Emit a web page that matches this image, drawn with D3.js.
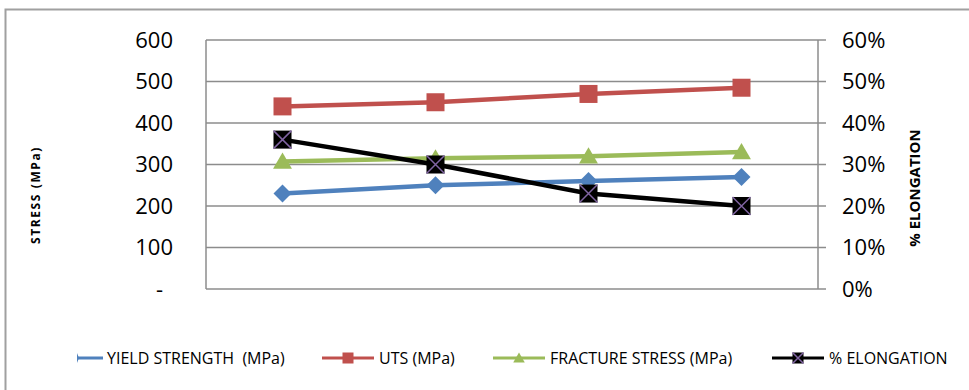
<!DOCTYPE html>
<html>
<head>
<meta charset="utf-8">
<script src="https://cdn.jsdelivr.net/npm/d3@7"></script>
<style>
  html, body { margin: 0; padding: 0; background: #fff; }
  svg { display: block; font-family: "Open Sans", "Liberation Sans", sans-serif; }
  text { white-space: pre; }
</style>
</head>
<body>
<svg id="chart" width="969" height="390"></svg>
<script>
// Four samples along the category axis (unlabelled)
const categories = ["S1", "S2", "S3", "S4"];
const yieldStrength = [230, 250, 260, 270];
const uts = [440, 450, 470, 485];
const fractureStress = [307, 315, 320, 330];
const elongation = [0.36, 0.30, 0.23, 0.20];
const stressTicks = [0, 100, 200, 300, 400, 500, 600];
const elongTicks = [0, 0.1, 0.2, 0.3, 0.4, 0.5, 0.6];
const seriesNames = ["YIELD STRENGTH  (MPa)", "UTS (MPa)", "FRACTURE STRESS (MPa)", "% ELONGATION"];

const svg = d3.select("#chart");
const plot = { left: 206, right: 818, top: 40, bottom: 289 };

// Frame around the chart area
svg.append("rect")
  .attr("x", 5.5).attr("y", 9.5).attr("width", 980).attr("height", 400)
  .attr("fill", "none").attr("stroke", "#a0a0a0").attr("stroke-width", 2);

const x = d3.scaleBand().domain(categories).range([plot.left, plot.right]);
const yL = d3.scaleLinear().domain([0, 600]).range([plot.bottom, plot.top]);
const yR = d3.scaleLinear().domain([0, 0.6]).range([plot.bottom, plot.top]);

// Horizontal gridlines
svg.append("g").selectAll("line").data(stressTicks).join("line")
  .attr("x1", plot.left).attr("x2", plot.right + 8)
  .attr("y1", d => yL(d)).attr("y2", d => yL(d))
  .attr("stroke", "#8c8c8c").attr("stroke-width", 1.5);

// Left and right axis lines
svg.append("line").attr("x1", plot.left).attr("x2", plot.left)
  .attr("y1", plot.top).attr("y2", plot.bottom)
  .attr("stroke", "#8c8c8c").attr("stroke-width", 1.5);
svg.append("line").attr("x1", plot.right).attr("x2", plot.right)
  .attr("y1", plot.top).attr("y2", plot.bottom)
  .attr("stroke", "#8c8c8c").attr("stroke-width", 1.5);

// Left axis labels (stress)
const leftAxis = d3.axisLeft(yL).tickValues(stressTicks)
  .tickFormat(d => d === 0 ? "-" : d3.format("d")(d)).tickSize(0).tickPadding(0);
const gL = svg.append("g").attr("transform", `translate(173,0)`).call(leftAxis);
gL.select(".domain").remove();
gL.selectAll("text").attr("font-size", 22).attr("fill", "#000")
  .attr("font-family", "'Open Sans', sans-serif");
gL.selectAll(".tick").filter(d => d === 0).select("text").attr("dx", -10);

// Right axis labels (elongation)
const rightAxis = d3.axisRight(yR).tickValues(elongTicks)
  .tickFormat(d3.format(".0%")).tickSize(0).tickPadding(0);
const gR = svg.append("g").attr("transform", `translate(842,0)`).call(rightAxis);
gR.select(".domain").remove();
gR.selectAll("text").attr("font-size", 22).attr("fill", "#000")
  .attr("font-family", "'Open Sans', sans-serif");

// Axis titles
svg.append("text").attr("transform", "translate(40,195) rotate(-90)")
  .attr("text-anchor", "middle").attr("font-size", 12).attr("font-weight", "bold")
  .attr("letter-spacing", 1.6).text("STRESS (MPa)");
svg.append("text").attr("transform", "translate(920,188) rotate(-90)")
  .attr("text-anchor", "middle").attr("font-size", 15).attr("font-weight", "bold")
  .text("% ELONGATION");

const cx = d => x(d) + x.bandwidth() / 2;

const series = [
  { name: seriesNames[0], values: yieldStrength, y: yL, color: "#4F81BD", marker: "diamond" },
  { name: seriesNames[1], values: uts, y: yL, color: "#C0504D", marker: "square" },
  { name: seriesNames[2], values: fractureStress, y: yL, color: "#9BBB59", marker: "triangle" },
  { name: seriesNames[3], values: elongation, y: yR, color: "#000000", marker: "xsquare" }
];

function drawMarker(g, type, color, size) {
  const h = size / 2;
  if (type === "diamond") {
    g.append("path").attr("d", `M0,${-h}L${h},0L0,${h}L${-h},0Z`).attr("fill", color);
  } else if (type === "square") {
    g.append("rect").attr("x", -h).attr("y", -h).attr("width", size).attr("height", size).attr("fill", color);
  } else if (type === "triangle") {
    g.append("path").attr("d", `M0,${-h}L${h * 1.05},${h * 0.8}L${-h * 1.05},${h * 0.8}Z`).attr("fill", color);
  } else if (type === "xsquare") {
    g.append("rect").attr("x", -h).attr("y", -h).attr("width", size).attr("height", size).attr("fill", "#000");
    g.append("path").attr("d", `M${-h},${-h}L${h},${h}M${h},${-h}L${-h},${h}`)
      .attr("stroke", "#8064A2").attr("stroke-width", 1.5);
  }
}

// Lines and markers; the elongation series is drawn last so it sits on top
series.forEach(s => {
  const line = d3.line().x((d, i) => cx(categories[i])).y(d => s.y(d));
  svg.append("path").datum(s.values).attr("d", line)
    .attr("fill", "none").attr("stroke", s.color).attr("stroke-width", 4.5)
    .attr("stroke-linejoin", "round");
  s.values.forEach((v, i) => {
    const g = svg.append("g").attr("transform", `translate(${cx(categories[i])},${s.y(v)})`);
    drawMarker(g, s.marker, s.color, 18);
  });
});

// Legend
const legendX = [77, 322, 493, 772];
const legendY = 358;
series.forEach((s, i) => {
  const g = svg.append("g").attr("transform", `translate(${legendX[i]},${legendY})`);
  g.append("line").attr("x1", 0).attr("x2", 26).attr("y1", 0).attr("y2", 0)
    .attr("stroke", s.color).attr("stroke-width", 3);
  if (i === 0) {
    g.append("path").attr("d", "M0,-5L2,0L0,5Z").attr("fill", s.color);
  } else {
    g.append("line").attr("x1", 26).attr("x2", 52).attr("y1", 0).attr("y2", 0)
      .attr("stroke", s.color).attr("stroke-width", 3);
    const m = g.append("g").attr("transform", "translate(26,0)");
    drawMarker(m, s.marker, s.color, 11);
  }
  g.append("text").attr("x", i === 0 ? 30 : 57).attr("y", 0).attr("dy", "0.35em")
    .attr("font-size", 16).attr("fill", "#000").text(s.name);
});
</script>
</body>
</html>
